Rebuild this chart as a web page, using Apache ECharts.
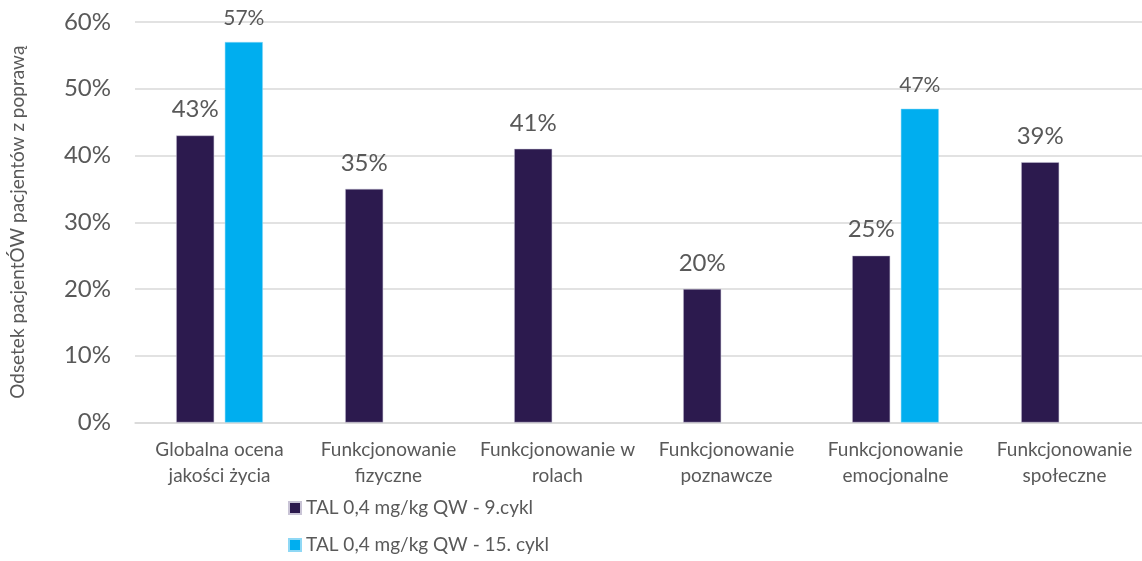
<!DOCTYPE html>
<html>
<head>
<meta charset="utf-8">
<style>
  html, body { margin: 0; padding: 0; background: #ffffff; overflow: hidden; }
  /* the plot area runs a few pixels past the right edge of the window */
  #chart { width: 1149px; height: 561px; }
</style>
<script src="https://cdn.jsdelivr.net/npm/echarts@6/dist/echarts.min.js"></script>
</head>
<body>
<div id="chart"></div>
<script>
// Quality-of-life domains (axis labels wrap at the given line breaks)
const categories = [
  'Globalna ocena\njakości życia',
  'Funkcjonowanie\nfizyczne',
  'Funkcjonowanie w\nrolach',
  'Funkcjonowanie\npoznawcze',
  'Funkcjonowanie\nemocjonalne',
  'Funkcjonowanie\nspołeczne'
];

// Share of patients with improvement, in percent
const cycle9Name = 'TAL 0,4 mg/kg QW - 9.cykl';
const cycle9Values = [43, 35, 41, 20, 25, 39];

const cycle15Name = 'TAL 0,4 mg/kg QW - 15. cykl';
const cycle15Values = [57, null, null, null, 47, null];

const yTicks = [0, 10, 20, 30, 40, 50, 60];
const yAxisTitle = 'Odsetek pacjentÓW pacjentów z poprawą';

const FONT = 'Lato, "Noto Sans", sans-serif';
const TEXT = '#595959';

const chart = echarts.init(document.getElementById('chart'));
chart.setOption({
  animation: false,
  textStyle: { fontFamily: FONT },
  grid: { left: 135, right: 0, top: 22, bottom: 138.5, containLabel: false },
  legend: {
    orient: 'vertical',
    left: 288,
    top: 498,
    padding: 0,
    itemWidth: 12,
    itemHeight: 12,
    itemGap: 17,
    icon: 'rect',
    textStyle: { color: TEXT, fontSize: 19, lineHeight: 20, fontFamily: FONT, padding: [0, 0, 0, 0] },
    data: [cycle9Name, cycle15Name]
  },
  xAxis: {
    type: 'category',
    data: categories,
    axisTick: { show: false },
    axisLine: { lineStyle: { color: '#d9d9d9', width: 1.5 } },
    axisLabel: {
      interval: 0,
      color: TEXT,
      fontSize: 19,
      lineHeight: 26,
      margin: 14,
      fontFamily: FONT
    }
  },
  yAxis: {
    type: 'value',
    min: yTicks[0],
    max: yTicks[yTicks.length - 1],
    interval: 10,
    name: yAxisTitle,
    nameLocation: 'middle',
    nameRotate: 90,
    nameGap: 108,
    nameTextStyle: { color: TEXT, fontSize: 19, fontFamily: FONT },
    axisLine: { show: false },
    axisTick: { show: false },
    splitLine: { lineStyle: { color: '#d9d9d9', width: 1.5 } },
    axisLabel: {
      color: TEXT,
      fontSize: 24,
      margin: 24,
      fontFamily: FONT,
      formatter: v => v + '%'
    }
  },
  series: [
    {
      name: cycle9Name,
      type: 'bar',
      data: cycle9Values,
      barWidth: 38,
      barGap: '28%',
      itemStyle: { color: '#2c1a4e', borderColor: '#c9c4d6', borderWidth: 0.5 },
      label: {
        show: true,
        position: 'top',
        distance: 14,
        color: TEXT,
        fontSize: 24,
        fontFamily: FONT,
        formatter: p => p.value + '%'
      }
    },
    {
      name: cycle15Name,
      type: 'bar',
      data: cycle15Values,
      barWidth: 38,
      barGap: '28%',
      itemStyle: { color: '#00aeef', borderColor: '#8fd8f5', borderWidth: 0.5 },
      label: {
        show: true,
        position: 'top',
        distance: 13,
        color: TEXT,
        fontSize: 21,
        fontFamily: FONT,
        formatter: p => p.value + '%'
      }
    }
  ]
});
</script>
</body>
</html>
